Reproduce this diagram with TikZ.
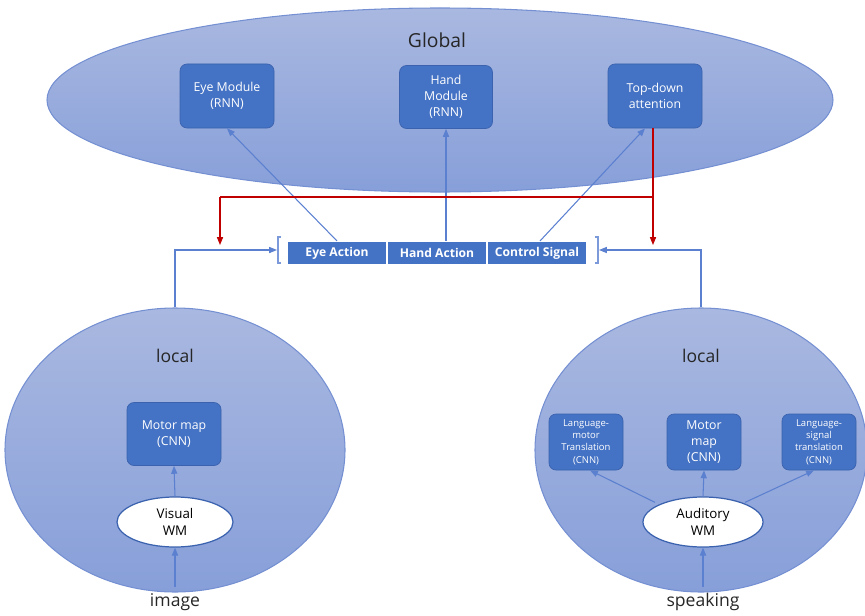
\documentclass[tikz,border=0pt]{standalone}
\usepackage{fontspec}
\setmainfont{Open Sans}
\usetikzlibrary{arrows.meta,calc,shapes.geometric}
\definecolor{modfill}{HTML}{4472C4}
\definecolor{modedge}{HTML}{3A62AE}
\definecolor{ovaltop}{HTML}{A9B8E0}
\definecolor{ovalbot}{HTML}{879FD9}
\definecolor{ovaledge}{HTML}{7590D2}
\definecolor{linkblue}{HTML}{5B80CF}
\definecolor{fbred}{HTML}{C00000}
\tikzset{
  sz/.style 2 args={minimum width=#1*0.02cm, minimum height=#2*0.02cm},
  region/.style={ellipse, draw=ovaledge, line width=0.6pt, top color=ovaltop, bottom color=ovalbot, inner sep=0pt},
  module/.style={rectangle, rounded corners=4pt, draw=modedge, fill=modfill, text=white,
    align=center, inner sep=0pt, font=\fontsize{7}{9}\selectfont},
  smallmod/.style={module, font=\fontsize{5.4}{7}\selectfont},
  actcell/.style={rectangle, fill=modfill, draw=white, line width=0.6pt, text=white,
    font=\bfseries\fontsize{6.9}{8}\selectfont, sz={99}{23}, inner sep=0pt},
  memory/.style={ellipse, draw=modedge, line width=0.7pt, fill=white, align=center, inner sep=0pt,
    font=\fontsize{7.6}{9.5}\selectfont},
  link/.style={draw=linkblue, line width=0.6pt, -{Triangle[length=4.5pt,width=3.5pt]}},
  feedback/.style={draw=fbred, line width=0.6pt, -{Triangle[length=4.5pt,width=3.5pt]}},
  brace/.style={draw=linkblue!80, line width=0.6pt},
  title/.style={font=\fontsize{11}{13}\selectfont, text=black!85},
  caption/.style={font=\fontsize{10}{12}\selectfont, text=black!85}
}
\begin{document}
\begin{tikzpicture}[x=0.02cm, y=-0.02cm]
\useasboundingbox (0,0) rectangle (865,615);
\clip (0,0) rectangle (865,615);

% ---- global level ----
\node[region, sz={786}{184}] (global) at (440,100) {};
\node[title] (globaltxt) at (437,40) {Global};
\node[module, sz={94}{64}] (eyemod) at (227,96) {Eye Module\\(RNN)};
\node[module, sz={93}{63}] (handmod) at (446,97) {Hand\\Module\\(RNN)};
\node[module, sz={94}{64}] (topdown) at (655,96) {Top-down\\attention};

% ---- action bar ----
\node[actcell] (eyeact) at (337,253) {Eye Action};
\node[actcell] (handact) at (437,253) {Hand Action};
\node[actcell] (ctrlact) at (537,253) {Control Signal};
\coordinate (lb) at (277,250);
\coordinate (rb) at (599,250);
\draw[brace] (281,237) -- (278,237) -- (278,263) -- (281,263);
\draw[brace] (595,237) -- (598,237) -- (598,263) -- (595,263);

% ---- local levels ----
\node[region, sz={340}{284}] (localL) at (175,450) {};
\node[region, sz={332}{284}] (localR) at (701,450) {};
\node[caption] (locLtxt) at (175,356) {local};
\node[caption] (locRtxt) at (701,356) {local};

\node[module, sz={94}{63}] (motorL) at (174,434) {Motor map\\(CNN)};
\node[memory, sz={116}{50}] (visual) at (175,522) {Visual\\WM};

\node[smallmod, sz={74}{56}] (langmotor) at (586,442) {Language-\\motor\\Translation\\(CNN)};
\node[module, sz={74}{56}] (motorR) at (704,442) {Motor\\map\\(CNN)};
\node[smallmod, sz={74}{56}] (langsig) at (819,442) {Language-\\signal\\translation\\(CNN)};
\node[memory, sz={120}{50}] (auditory) at (703,522) {Auditory\\WM};

% ---- inputs ----
\node[caption] (image) at (175,602) {image};
\node[caption] (speaking) at (703,602) {speaking};

% ---- connectors ----
\draw[link] (eyeact.north) -- (eyemod.south);
\draw[link] (handmod.south |- handact.north) -- (handmod.south);
\draw[link] ($(ctrlact.north)+(3,0)$) -- ($(topdown.south)+(-10,0)$);

\coordinate (redL) at (220,197);
\coordinate (redR) at ($(topdown.south |- redL)+(-2,0)$);
\draw[feedback] ($(topdown.south)+(-2,0)$) -- ($(redR)+(0,48)$);
\draw[fbred, line width=0.6pt] (redR) -- (redL);
\draw[feedback] (redL) -- ++(0,48);

\draw[link] (localL.north) |- (lb);
\draw[link] (localR.north) |- (rb);

\draw[link] (visual.north) -- (motorL.south);
\draw[link] (auditory.north) -- (motorR.south);
\draw[link] ($(auditory.north)+(-48,6)$) -- ($(langmotor.south)+(4,0)$);
\draw[link] ($(auditory.north)+(42,6)$) -- ($(langsig.south)+(-5,0)$);

\draw[link] (image.north) -- (visual.south);
\draw[link] (speaking.north) -- (auditory.south);
\end{tikzpicture}
\end{document}
